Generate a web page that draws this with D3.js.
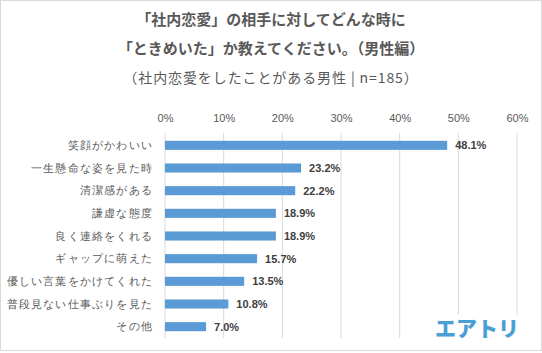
<!DOCTYPE html>
<html>
<head>
<meta charset="utf-8">
<script src="https://cdn.jsdelivr.net/npm/d3@7"></script>
<style>
  body { margin: 0; background: #fff; }
  svg { display: block; font-family: "Noto Sans CJK JP", "Noto Sans", sans-serif; }
</style>
</head>
<body>
<div id="chart"></div>
<script>
// データ
const categories = ["笑顔がかわいい", "一生懸命な姿を見た時", "清潔感がある", "謙虚な態度", "良く連絡をくれる",
  "ギャップに萌えた", "優しい言葉をかけてくれた", "普段見ない仕事ぶりを見た", "その他"];
const values = [48.1, 23.2, 22.2, 18.9, 18.9, 15.7, 13.5, 10.8, 7.0];
const ticks = [0, 10, 20, 30, 40, 50, 60];
const titleLines = ["「社内恋愛」の相手に対してどんな時に", "「ときめいた」か教えてください。（男性編）"];
const subtitle = "（社内恋愛をしたことがある男性 | n=185）";

const W = 542, H = 353;
const svg = d3.select("#chart").append("svg")
  .attr("width", W).attr("height", H);

// 外枠
svg.append("rect")
  .attr("x", 0.5).attr("y", 0.5)
  .attr("width", W - 1).attr("height", H - 3)
  .attr("fill", "#fff").attr("stroke", "#d9d9d9");

// タイトル
svg.selectAll(".title")
  .data(titleLines)
  .enter().append("text")
  .attr("x", W / 2)
  .attr("y", (d, i) => 25 + i * 29)
  .attr("text-anchor", "middle")
  .style("font-size", "15px")
  .style("font-weight", "bold")
  .attr("fill", "#595959")
  .text(d => d);

svg.append("text")
  .attr("x", W / 2).attr("y", 83)
  .attr("text-anchor", "middle")
  .style("font-size", "14px")
  .style("letter-spacing", "0.9px")
  .attr("fill", "#595959")
  .text(subtitle);

// スケール
const x = d3.scaleLinear().domain([0, 60]).range([165, 517]);
const y = d3.scaleBand().domain(categories).range([134, 338]).paddingInner(0.6).paddingOuter(0.3);

// グリッド線
svg.selectAll(".grid")
  .data(ticks)
  .enter().append("line")
  .attr("x1", d => x(d)).attr("x2", d => x(d))
  .attr("y1", 133).attr("y2", 338)
  .attr("stroke", "#d9d9d9");

// 目盛ラベル
svg.append("g")
  .attr("transform", "translate(0,118)")
  .call(d3.axisTop(x).tickValues(ticks).tickFormat(d => d + "%").tickSize(0).tickPadding(0))
  .call(g => g.select(".domain").remove())
  .call(g => g.selectAll("text")
    .attr("dy", "0.32em")
    .style("font-family", "'Liberation Sans', sans-serif")
    .style("font-size", "11px")
    .attr("fill", "#595959"));

// 項目ラベル
svg.append("g")
  .attr("transform", "translate(153,0)")
  .call(d3.axisLeft(y).tickSize(0).tickPadding(0))
  .call(g => g.select(".domain").remove())
  .call(g => g.selectAll("text")
    .style("font-size", "11px")
    .style("letter-spacing", "1.2px")
    .attr("fill", "#595959"));

// 棒
svg.selectAll(".bar")
  .data(values)
  .enter().append("rect")
  .attr("x", x(0))
  .attr("y", (d, i) => y(categories[i]))
  .attr("width", d => x(d) - x(0))
  .attr("height", y.bandwidth())
  .attr("fill", "#5b9bd5");

// 値ラベル
svg.selectAll(".val")
  .data(values)
  .enter().append("text")
  .attr("x", d => x(d) + 8)
  .attr("y", (d, i) => y(categories[i]) + y.bandwidth() / 2)
  .attr("dy", "0.35em")
  .style("font-family", "'Liberation Sans', sans-serif")
  .style("font-size", "11px")
  .style("font-weight", "bold")
  .attr("fill", "#404040")
  .text(d => d.toFixed(1) + "%");

// ロゴ
svg.append("rect")
  .attr("x", 428).attr("y", 315).attr("width", 100).attr("height", 30)
  .attr("fill", "#fff");
svg.append("text")
  .attr("x", 477).attr("y", 336)
  .attr("text-anchor", "middle")
  .style("font-size", "21px")
  .style("font-weight", "900")
  .attr("fill", "#4aa0d5")
  .text("エアトリ");
</script>
</body>
</html>
